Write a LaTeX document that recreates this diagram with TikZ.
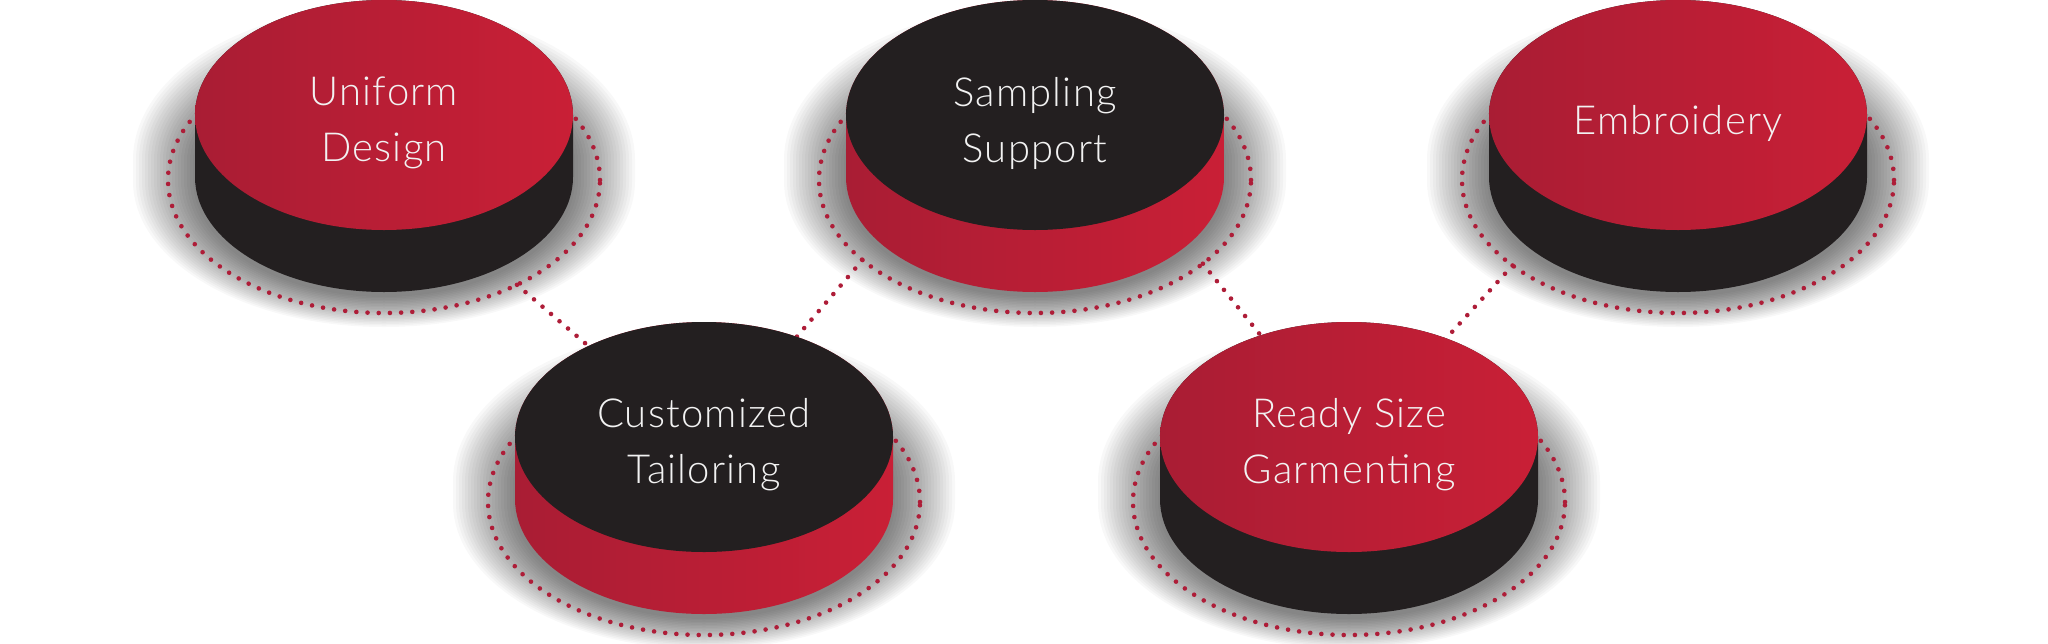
\documentclass[tikz,border=0pt]{standalone}
\usepackage{fontspec}
\IfFontExistsTF{Lato Light}{\setmainfont{Lato Light}[LetterSpace=3]}{\setmainfont{Lato}[LetterSpace=3]}
\usetikzlibrary{calc}
\pgfdeclarelayer{bg}\pgfdeclarelayer{shad}\pgfdeclarelayer{back}
\pgfsetlayers{bg,shad,back,main}
\definecolor{redL}{HTML}{A91D34}
\definecolor{redR}{HTML}{C91F36}
\definecolor{pk}{HTML}{231F20}
\definecolor{dotred}{HTML}{AE1D38}
\definecolor{txt}{HTML}{F2F2F2}
\tikzset{
 redfill/.style={shade, left color=redL, right color=redR},
 blackfill/.style={fill=pk},
 dotline/.style={draw=dotred, line width=2.3pt, line cap=round, dash pattern=on 0pt off 5.6pt},
 shadlayer/.style={fill=black, fill opacity=0.028},
 ptext/.style={text=txt, font=\fontsize{20}{28}\selectfont, align=center, inner sep=0pt},
}
\newcommand\puck[6]{%
 \begin{pgfonlayer}{shad}
  \foreach \e in {2,5,...,62}{
   \path[shadlayer] ({#2-189-\e},{-#3-45}) arc[start angle=180,end angle=0,x radius={(189+\e)/2*1pt},y radius={(92+\e)/2*1pt}]
     -- ({#2+189+\e},{-#3-66}) arc[start angle=0,end angle=-180,x radius={(189+\e)/2*1pt},y radius={(115+0.5*\e)/2*1pt}] -- cycle;
  }
 \end{pgfonlayer}
 \coordinate (#1ring) at ({#2},{-#3-65});
 \begin{pgfonlayer}{back}
  \draw[dotline] (#1ring) ellipse[x radius=108pt, y radius=66.5pt];
 \end{pgfonlayer}
 \path[#5] ({#2-189},{-#3}) arc[start angle=180,end angle=0,x radius=94.5pt,y radius=57.5pt]
     -- ({#2+189},{-#3-62}) arc[start angle=0,end angle=-180,x radius=94.5pt,y radius=57.5pt] -- cycle;
 \path[#4] ({#2},{-#3}) ellipse[x radius=94.5pt,y radius=57.5pt];
 \node[ptext] (#1) at ({#2},{-#3-8}) {#6};
}
\begin{document}
\begin{tikzpicture}[x=0.5pt,y=0.5pt]
\useasboundingbox (0,0) rectangle (2048,-643);
\begin{pgfonlayer}{bg}
 \fill[white] (0,0) rectangle (2048,-643);
\end{pgfonlayer}
\puck{d1}{384}{115}{redfill}{blackfill}{Uniform\\Design}
\puck{d2}{704}{437}{blackfill}{redfill}{Customized\\Tailoring}
\puck{d3}{1035}{115}{blackfill}{redfill}{Sampling\\Support}
\puck{d4}{1349}{437}{redfill}{blackfill}{Ready Size\\Garmenting}
\puck{d5}{1678}{115}{redfill}{blackfill}{Embroidery}
\coordinate (c1) at ($(d1ring)+(-52:108pt and 66.5pt)$);
\coordinate (c3a) at ($(d3ring)+(-143:108pt and 66.5pt)$);
\coordinate (c3b) at ($(d3ring)+(-39:108pt and 66.5pt)$);
\coordinate (c5) at ($(d5ring)+(-140:108pt and 66.5pt)$);
\begin{pgfonlayer}{back}
 \draw[dotline] (c1) -- (d2);
 \draw[dotline] (c3a) -- (d2);
 \draw[dotline] (c3b) -- (d4);
 \draw[dotline] (c5) -- (d4);
\end{pgfonlayer}
\end{tikzpicture}
\end{document}
